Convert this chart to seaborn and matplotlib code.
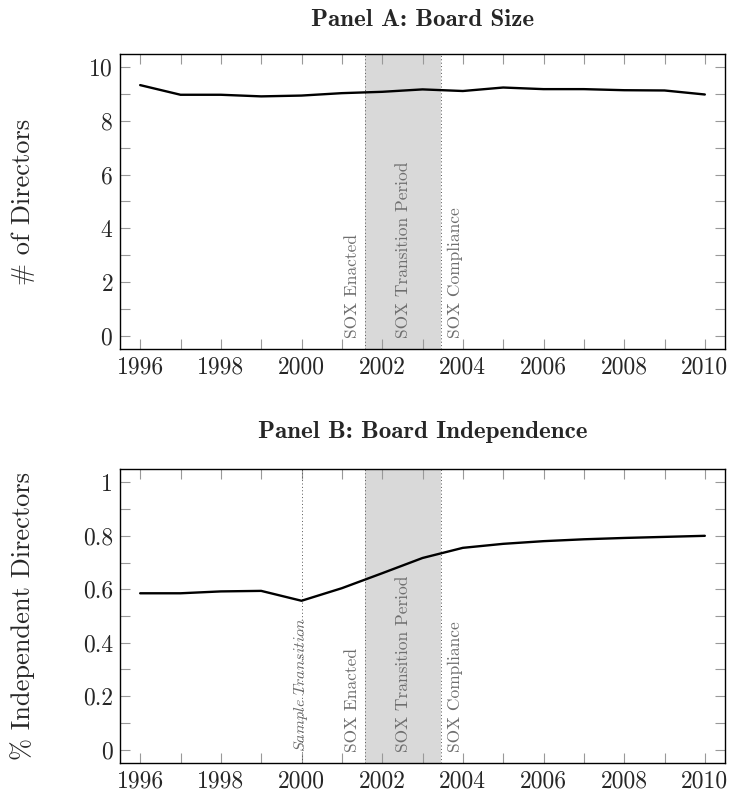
import pandas as pd
import matplotlib
matplotlib.use('Agg')
import matplotlib.pyplot as plt
from matplotlib.ticker import MultipleLocator, FuncFormatter
import seaborn as sns

sns.set_style('ticks')
plt.rcParams['font.family'] = ['cmr10']
plt.rcParams['mathtext.fontset'] = 'cm'
plt.rcParams['axes.formatter.use_mathtext'] = True
plt.rcParams['axes.unicode_minus'] = False

years = list(range(1996, 2011))
board_size = [9.34, 8.98, 8.98, 8.92, 8.95, 9.04, 9.09, 9.18, 9.12, 9.25,
              9.19, 9.19, 9.15, 9.14, 8.99]
independence = [0.585, 0.585, 0.592, 0.594, 0.557, 0.604, 0.66, 0.717, 0.755,
                0.77, 0.78, 0.787, 0.792, 0.796, 0.80]

sox_enacted = 2001.58
sox_compliance = 2003.45
sample_transition = 2000

df = pd.DataFrame({'year': years, 'size': board_size, 'indep': independence})

fig = plt.figure(figsize=(7.32, 7.96), dpi=100)
axA = fig.add_axes([120 / 732, 1 - 349 / 796, 605 / 732, 295 / 796])
axB = fig.add_axes([120 / 732, 1 - 763 / 796, 605 / 732, 294 / 796])

txt_col = '#6e6e6e'
note_size = 12.5


def style(ax):
    ax.set_xlim(1995.5, 2010.5)
    ax.xaxis.set_major_locator(MultipleLocator(2))
    ax.xaxis.set_minor_locator(MultipleLocator(1))
    ax.xaxis.set_major_formatter(FuncFormatter(lambda v, p: '%d' % v))
    ax.tick_params(which='both', direction='in', top=True, right=True,
                   length=7, width=0.8, color='#999999', labelsize=17, pad=5)
    for s in ax.spines.values():
        s.set_linewidth(1.0)
        s.set_color('black')
    ax.set_xlabel('')


def sox_marks(ax, y0):
    ax.axvspan(sox_enacted, sox_compliance, color='#d9d9d9', lw=0, zorder=0)
    for xv in (sox_enacted, sox_compliance):
        ax.axvline(xv, color='#555555', lw=0.7, ls=(0, (1, 2.5)), zorder=1)
    ax.text(sox_enacted - 0.32, y0, 'SOX Enacted', rotation=90, ha='center',
            va='bottom', fontsize=note_size, color=txt_col)
    ax.text((sox_enacted + sox_compliance) / 2, y0, 'SOX Transition Period',
            rotation=90, ha='center', va='bottom', fontsize=note_size,
            color=txt_col)
    ax.text(sox_compliance + 0.36, y0, 'SOX Compliance', rotation=90,
            ha='center', va='bottom', fontsize=note_size, color=txt_col)


# Panel A
sox_marks(axA, -0.1)
sns.lineplot(data=df, x='year', y='size', ax=axA, color='black', lw=1.7)
style(axA)
axA.set_ylim(-0.5, 10.5)
axA.yaxis.set_major_locator(MultipleLocator(2))
axA.yaxis.set_minor_locator(MultipleLocator(1))
axA.set_ylabel('# of Directors', fontsize=19)
axA.yaxis.set_label_coords(-0.14, 0.5)

# Panel B
sox_marks(axB, -0.01)
axB.axvline(sample_transition, color='#555555', lw=0.7, ls=(0, (1, 2.5)), zorder=1)
axB.text(sample_transition, -0.01, r'$Sample\ Transition$', rotation=90,
         ha='center', va='bottom', fontsize=11.5, color=txt_col)
sns.lineplot(data=df, x='year', y='indep', ax=axB, color='black', lw=1.7)
style(axB)
axB.set_ylim(-0.05, 1.05)
axB.yaxis.set_major_locator(MultipleLocator(0.2))
axB.yaxis.set_minor_locator(MultipleLocator(0.1))
axB.yaxis.set_major_formatter(FuncFormatter(lambda v, p: '%g' % round(v, 1)))
axB.set_ylabel('% Independent Directors', fontsize=19)
axB.yaxis.set_label_coords(-0.14, 0.5)

fig.text(422.5 / 732, 1 - 20 / 796, 'Panel A: Board Size', family='cmb10',
         fontsize=18, ha='center', va='center')
fig.text(422.5 / 732, 1 - 432 / 796, 'Panel B: Board Independence',
         family='cmb10', fontsize=18, ha='center', va='center')

fig.savefig('out.png', dpi=100)
